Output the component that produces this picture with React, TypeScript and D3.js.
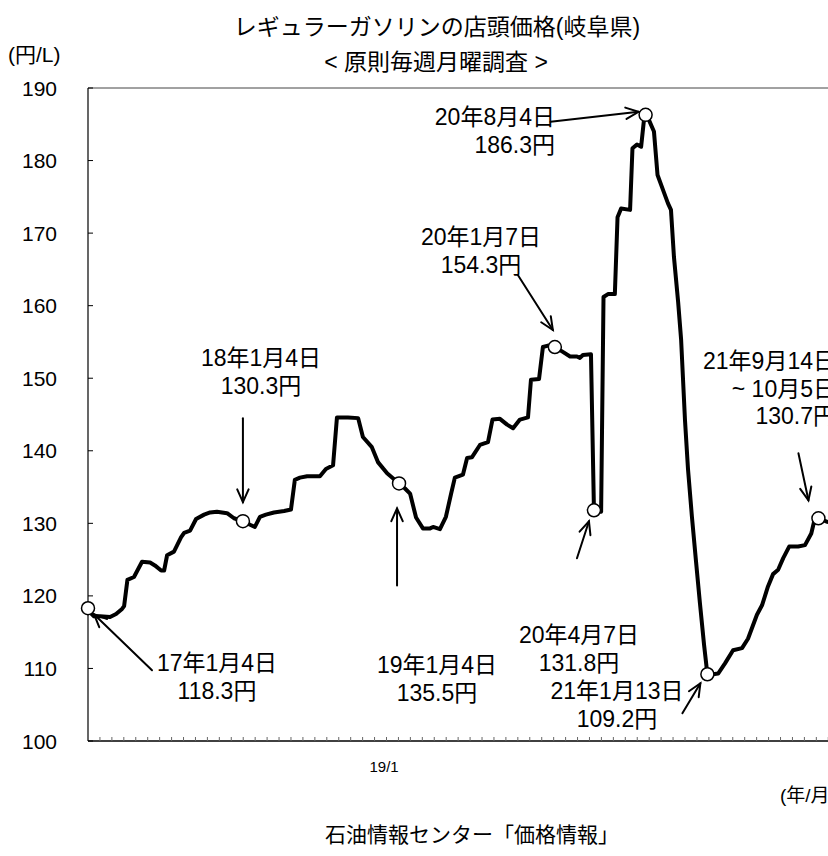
import React from 'react';
import * as d3 from 'd3';

// weekly survey index (weeks since 2017-01-04) and price (円/L)
const weeks = [
  0.0, 1.0, 2.0, 4.0, 7.4, 9.4, 11.4, 12.1, 13.2, 15.4, 18.1, 20.8, 22.4, 24.5, 25.5, 26.5, 28.8,
  31.2, 32.2, 34.2, 36.2, 38.9, 40.9, 43.2, 46.6, 48.9, 51.9, 54.3, 55.9, 57.6, 59.6, 62.3, 65.7,
  68.0, 69.3, 71.0, 73.4, 77.7, 79.7, 82.1, 83.4, 87.1, 90.5, 92.1, 95.1, 97.2, 100.2, 104.2,
  106.2, 107.9, 109.9, 112.2, 114.6, 115.6, 117.9, 119.9, 121.6, 122.9, 125.6, 127.0, 128.6,
  131.3, 134.0, 135.5, 138.0, 140.4, 142.4, 144.7, 147.4, 148.4, 151.1, 152.4, 154.1, 156.4,
  158.8, 161.5, 163.8, 164.8, 165.8, 168.5, 169.5, 170.5, 171.9, 172.7, 174.2, 176.5, 177.4,
  178.6, 181.6, 182.4, 183.9, 185.3, 186.3, 186.8, 187.9, 189.6, 190.8, 192.6, 194.3, 195.3,
  196.3, 197.7, 198.7, 200.0, 201.0, 202.3, 203.7, 205.0, 206.4, 207.5, 209.4, 211.1, 213.4,
  216.1, 219.1, 221.1, 224.1, 225.8, 227.8, 229.5, 231.2, 232.9, 234.9, 237.9, 240.2, 242.3,
  243.4, 244.7, 247.7, 249.7,
];
const prices = [
  118.3, 117.6, 117.2, 117.2, 117.1, 117.5, 118.2, 118.6, 122.2, 122.6, 124.7, 124.6, 124.2, 123.5, 123.5, 125.6, 126.1,
  128.1, 128.7, 129.0, 130.6, 131.2, 131.5, 131.6, 131.4, 130.7, 130.3, 129.8, 129.5, 130.9, 131.2, 131.5, 131.7,
  131.9, 136.0, 136.3, 136.5, 136.5, 137.5, 138.0, 144.6, 144.6, 144.5, 141.9, 140.5, 138.4, 136.9, 135.5,
  134.8, 134.1, 130.8, 129.3, 129.3, 129.5, 129.2, 130.9, 134.0, 136.3, 136.7, 139.0, 139.1,
  140.8, 141.2, 144.3, 144.4, 143.6, 143.1, 144.3, 144.6, 149.8, 149.9, 154.3, 154.5, 154.3,
  153.7, 153.0, 153.0, 152.8, 153.2, 153.3, 131.8, 131.7, 131.6, 161.2, 161.6, 161.6, 172.2,
  173.4, 173.2, 181.7, 182.2, 181.9, 185.8, 186.3, 185.6, 184.0, 178.0, 176.0, 174.1, 173.2,
  166.7, 160.5, 155.3, 144.2, 137.5, 131.0, 124.7, 119.0, 113.2, 109.2, 109.2, 109.3, 110.7,
  112.5, 112.8, 114.1, 117.4, 118.7, 121.3, 123.0, 123.6, 125.2, 126.8, 126.8, 127.0, 128.6,
  130.5, 130.7, 130.2, 130.0,
];

// highlighted points
const markWeeks = [0.0, 51.9, 104.2, 156.4, 169.5, 186.8, 207.5, 244.7];
const markPrices = [118.3, 130.3, 135.5, 154.3, 131.8, 186.3, 109.2, 130.7];
const markLabels = [
  ['17年1月4日', '118.3円'],
  ['18年1月4日', '130.3円'],
  ['19年1月4日', '135.5円'],
  ['20年1月7日', '154.3円'],
  ['20年4月7日', '131.8円'],
  ['20年8月4日', '186.3円'],
  ['21年1月13日', '109.2円'],
  ['21年9月14日', '~ 10月5日', '130.7円'],
];

const yTicks = [100, 110, 120, 130, 140, 150, 160, 170, 180, 190];
const xTickLabels = ['19/1'];
const xTickLabelWeeks = [99.2];

// annotation layout (pixel offsets from the marked point)
const annoLayout = [
  { tail: [64, 62], tip: [6, 6], tx: 217, ty: 671, anchor: 'middle' },
  { tail: [0, -103], tip: [0, -19], tx: 261, ty: 366, anchor: 'middle' },
  { tail: [-2, 102], tip: [-2, 25], tx: 437, ty: 673, anchor: 'middle' },
  { tail: [-37, -72], tip: [-2, -17], tx: 481, ty: 245, anchor: 'middle' },
  { tail: [-17, 48], tip: [-5, 11], tx: 579, ty: 643, anchor: 'middle' },
  { tail: [-95, 7], tip: [-7, -3], tx: 555, ty: 125, anchor: 'end' },
  { tail: [-25, 39], tip: [-7, 9], tx: 617, ty: 699, anchor: 'middle' },
  { tail: [-20, -65], tip: [-10, -18], tx: 836, ty: 369, anchor: 'end' },
];

const FONT = '"Liberation Sans", Arial, "Noto Sans CJK JP", sans-serif';

function Arrow({ x1, y1, x2, y2 }: { x1: number; y1: number; x2: number; y2: number }) {
  const th = Math.atan2(y2 - y1, x2 - x1);
  const L = 14;
  const phi = (24 * Math.PI) / 180;
  const b1 = [x2 - L * Math.cos(th - phi), y2 - L * Math.sin(th - phi)];
  const b2 = [x2 - L * Math.cos(th + phi), y2 - L * Math.sin(th + phi)];
  return (
    <g stroke="#000" strokeWidth={2} fill="none" strokeLinecap="round">
      <line x1={x1} y1={y1} x2={x2} y2={y2} />
      <polyline points={`${b1[0]},${b1[1]} ${x2},${y2} ${b2[0]},${b2[1]}`} />
    </g>
  );
}

export default function App() {
  const W = 828;
  const H = 856;
  const left = 88;
  const top = 88;
  const bottom = 741;
  const pxPerWeek = 2.985;
  const maxWeek = 252;
  const x = d3.scaleLinear().domain([0, maxWeek]).range([left, left + maxWeek * pxPerWeek]);
  const y = d3.scaleLinear().domain([100, 190]).range([bottom, top]);
  const line = d3
    .line<number>()
    .x((_, i) => x(weeks[i]))
    .y((d) => y(d));
  const xTicks = d3.range(4, maxWeek + 1, 4);
  const right = x(maxWeek);

  return (
    <svg
      width={W}
      height={H}
      style={{ position: 'absolute', left: 0, top: 0, background: '#fff', overflow: 'hidden' }}
      fontFamily={FONT}
    >
      <rect x={0} y={0} width={W} height={H} fill="#fff" />
      {/* titles */}
      <text x={437} y={35} fontSize={23} textAnchor="middle">レギュラーガソリンの店頭価格(岐阜県)</text>
      <text x={436} y={70} fontSize={23} textAnchor="middle">&lt; 原則毎週月曜調査 &gt;</text>
      <text x={8} y={62} fontSize={21}>(円/L)</text>

      {/* frame */}
      <line x1={left} y1={top} x2={right} y2={top} stroke="#444" strokeWidth={1} />
      <line x1={left} y1={top} x2={left} y2={bottom} stroke="#000" strokeWidth={1.2} />
      <line x1={left} y1={bottom} x2={right} y2={bottom} stroke="#000" strokeWidth={1.5} />

      {/* y ticks */}
      {yTicks.map((t) => (
        <g key={t}>
          <line x1={left} x2={left + 5} y1={y(t)} y2={y(t)} stroke="#000" />
          <text x={57} y={y(t) + 7.5} fontSize={21} textAnchor="end">{t}</text>
        </g>
      ))}
      {/* x ticks */}
      {xTicks.map((w) => (
        <line key={w} x1={x(w)} x2={x(w)} y1={bottom} y2={bottom - 4} stroke="#666" />
      ))}
      {xTickLabels.map((l, i) => (
        <text key={l} x={x(xTickLabelWeeks[i])} y={772} fontSize={15} textAnchor="middle">{l}</text>
      ))}
      <text x={780} y={802} fontSize={19}>(年/月)</text>

      {/* data line */}
      <path d={line(prices) || ''} fill="none" stroke="#000" strokeWidth={4} strokeLinejoin="round" strokeLinecap="round" />

      {/* annotations */}
      {markWeeks.map((w, i) => {
        const px = x(w);
        const py = y(markPrices[i]);
        const a = annoLayout[i];
        return (
          <g key={i}>
            <Arrow x1={px + a.tail[0]} y1={py + a.tail[1]} x2={px + a.tip[0]} y2={py + a.tip[1]} />
            {markLabels[i].map((s, j) => (
              <text key={j} x={a.tx} y={a.ty + j * 27.5} fontSize={23} textAnchor={a.anchor as any}>{s}</text>
            ))}
          </g>
        );
      })}
      {markWeeks.map((w, i) => (
        <circle key={'c' + i} cx={x(w)} cy={y(markPrices[i])} r={6.5} fill="#fff" stroke="#000" strokeWidth={1.5} />
      ))}

      {/* source */}
      <text x={472} y={842} fontSize={21} textAnchor="middle">石油情報センター「価格情報」</text>
    </svg>
  );
}
